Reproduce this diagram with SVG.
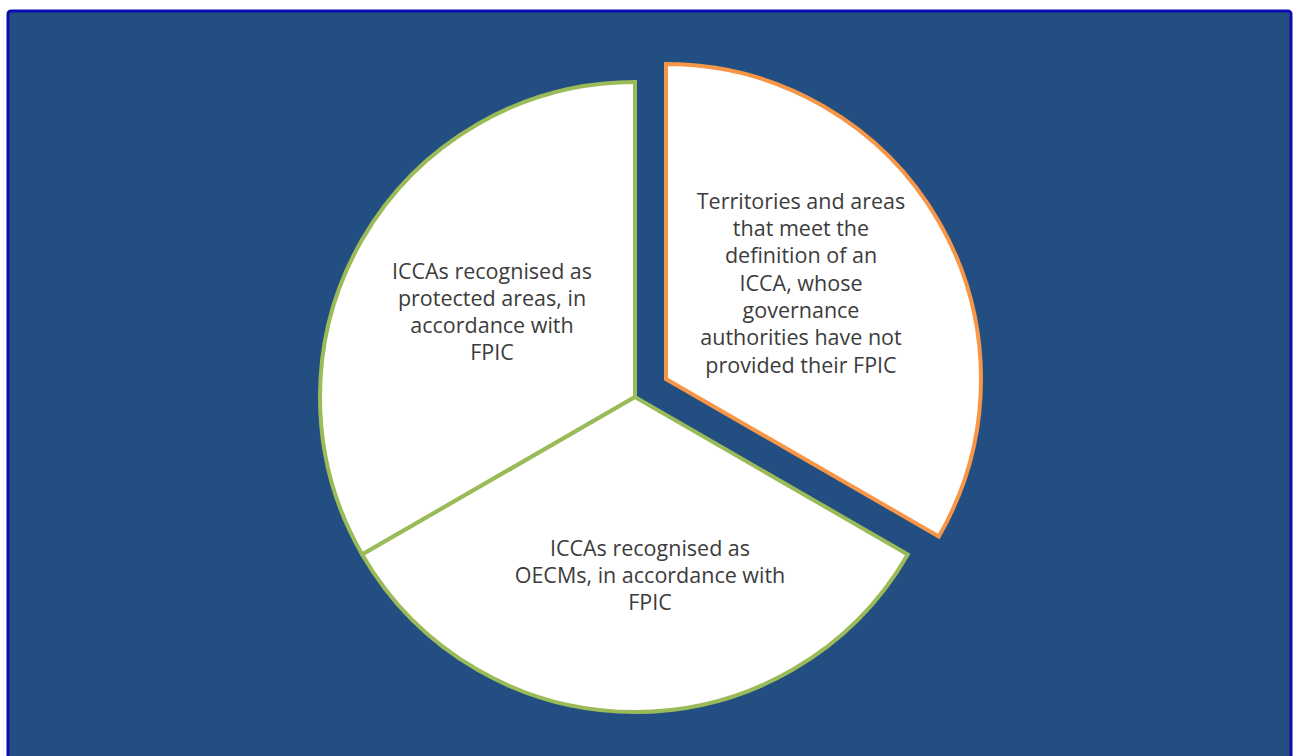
<svg xmlns="http://www.w3.org/2000/svg" width="1295" height="756" viewBox="0 0 1295 756">
<style>
.bg{fill:#234e81;stroke:#0c0cb0;stroke-width:3}
.green{fill:#ffffff;stroke:#9bbb59;stroke-width:4;stroke-linejoin:miter}
.orange{fill:#ffffff;stroke:#f79646;stroke-width:4;stroke-linejoin:miter}
text{font-family:"Open Sans","Liberation Sans",sans-serif;font-size:21.5px;fill:#3c3c3c;text-anchor:middle}
</style>
<rect x="0" y="0" width="1295" height="756" fill="#ffffff"/>
<rect class="bg" x="8" y="11" width="1283" height="760" rx="3"/>
<g id="slice-left">
<path class="green" d="M635,397 L635,82 A315,315 0 0 0 362.2,554.5 Z"/>
<text x="492" y="279">ICCAs recognised as</text>
<text x="492" y="306">protected areas, in</text>
<text x="492" y="333">accordance with</text>
<text x="492" y="360">FPIC</text>
</g>
<g id="slice-bottom">
<path class="green" d="M635,397 L362.2,554.5 A315,315 0 0 0 907.8,554.5 Z"/>
<text x="650" y="556">ICCAs recognised as</text>
<text x="650" y="583">OECMs, in accordance with</text>
<text x="650" y="610">FPIC</text>
</g>
<g id="slice-right">
<path class="orange" d="M666,379 L666,64 A315,315 0 0 1 938.8,536.5 Z"/>
<text x="801" y="209">Territories and areas</text>
<text x="801" y="236">that meet the</text>
<text x="801" y="263">definition of an</text>
<text x="801" y="291">ICCA, whose</text>
<text x="801" y="318">governance</text>
<text x="801" y="345">authorities have not</text>
<text x="801" y="373">provided their FPIC</text>
</g>
<g id="connectors"></g>
</svg>
